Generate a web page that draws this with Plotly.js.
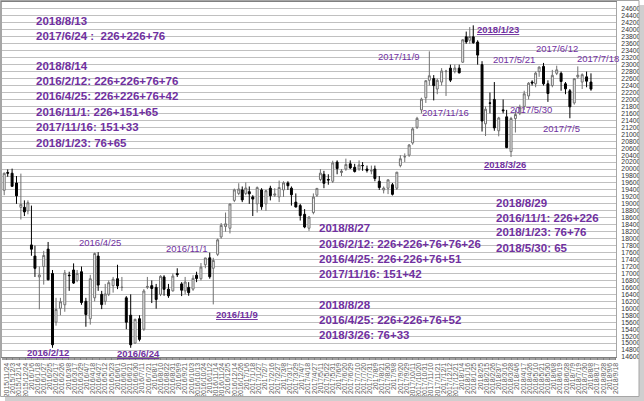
<!DOCTYPE html>
<html>
<head>
<meta charset="utf-8">
<script src="https://cdn.plot.ly/plotly-3.0.1.min.js"></script>
<style>
html,body{margin:0;padding:0;background:#ffffff;}
#chart{width:644px;height:401px;}
</style>
</head>
<body>
<div id="chart"></div>
<script>
// ---- Axis calendar: x tick labels (every 7th trading session) ----
const tickLabels = ['2015/11/24','2015/12/3','2015/12/14','2015/12/24','2016/1/6','2016/1/18','2016/1/27','2016/2/5','2016/2/17','2016/2/26','2016/3/8','2016/3/17','2016/3/29','2016/4/7','2016/4/18','2016/4/27','2016/5/12','2016/5/23','2016/6/1','2016/6/10','2016/6/21','2016/6/30','2016/7/11','2016/7/21','2016/8/1','2016/8/10','2016/8/22','2016/8/31','2016/9/9','2016/9/21','2016/10/3','2016/10/13','2016/10/24','2016/11/2','2016/11/14','2016/11/24','2016/12/5','2016/12/14','2016/12/26','2017/1/6','2017/1/18','2017/1/27','2017/2/7','2017/2/16','2017/2/27','2017/3/8','2017/3/17','2017/3/29','2017/4/7','2017/4/18','2017/4/27','2017/5/11','2017/5/22','2017/5/31','2017/6/9','2017/6/20','2017/6/29','2017/7/10','2017/7/20','2017/7/31','2017/8/9','2017/8/21','2017/8/30','2017/9/8','2017/9/20','2017/9/29','2017/10/11','2017/10/20','2017/10/31','2017/11/10','2017/11/21','2017/12/1','2017/12/12','2017/12/21','2018/1/4','2018/1/16','2018/1/25','2018/2/5','2018/2/15','2018/2/26','2018/3/7','2018/3/16','2018/3/28','2018/4/6','2018/4/17','2018/4/26','2018/5/10','2018/5/21','2018/5/30','2018/6/8','2018/6/19','2018/6/28','2018/7/9','2018/7/19','2018/7/30','2018/8/8','2018/8/17','2018/8/28','2018/9/6','2018/9/18'];

// Market holidays (Tokyo) inside the period
const holidays = ['2015/11/23','2015/12/23','2015/12/31','2016/1/1','2016/1/11','2016/2/11','2016/3/21','2016/4/29','2016/5/3','2016/5/4','2016/5/5','2016/7/18','2016/8/11','2016/9/19','2016/9/22','2016/10/10','2016/11/3','2016/11/23','2016/12/23','2017/1/2','2017/1/3','2017/1/9','2017/3/20','2017/5/3','2017/5/4','2017/5/5','2017/7/17','2017/8/11','2017/9/18','2017/10/9','2017/11/3','2017/11/23','2018/1/1','2018/1/2','2018/1/3','2018/1/8','2018/2/12','2018/3/21','2018/4/30','2018/5/3','2018/5/4','2018/7/16','2018/9/17'];
const calendarStart = '2015/11/16';
const calendarEnd = '2018/9/18';

// ---- Price data (weekly candles, Nikkei 225) ----
const weekDates = ['2015/11/18','2015/11/25','2015/12/2','2015/12/9','2015/12/16','2015/12/22','2015/12/29',
'2016/1/6','2016/1/13','2016/1/20','2016/1/27','2016/2/3','2016/2/10','2016/2/17','2016/2/24','2016/3/2','2016/3/9','2016/3/16','2016/3/23','2016/3/30','2016/4/6','2016/4/13','2016/4/20','2016/4/26','2016/5/6','2016/5/12','2016/5/18','2016/5/25','2016/6/1','2016/6/8','2016/6/15','2016/6/22','2016/6/29','2016/7/6','2016/7/13','2016/7/20','2016/7/27','2016/8/3','2016/8/10','2016/8/17','2016/8/24','2016/8/31','2016/9/7','2016/9/14','2016/9/21','2016/9/28','2016/10/5','2016/10/12','2016/10/19','2016/10/26','2016/11/2','2016/11/9','2016/11/16','2016/11/22','2016/11/30','2016/12/7','2016/12/14','2016/12/21','2016/12/28',
'2017/1/5','2017/1/12','2017/1/18','2017/1/25','2017/2/1','2017/2/8','2017/2/15','2017/2/22','2017/3/1','2017/3/8','2017/3/15','2017/3/22','2017/3/29','2017/4/5','2017/4/12','2017/4/19','2017/4/26','2017/5/2','2017/5/11','2017/5/17','2017/5/24','2017/5/31','2017/6/7','2017/6/14','2017/6/21','2017/6/28','2017/7/5','2017/7/12','2017/7/19','2017/7/26','2017/8/2','2017/8/8','2017/8/16','2017/8/23','2017/8/30','2017/9/6','2017/9/13','2017/9/20','2017/9/27','2017/10/4','2017/10/11','2017/10/18','2017/10/25','2017/11/1','2017/11/8','2017/11/15','2017/11/21','2017/11/29','2017/12/6','2017/12/13','2017/12/20','2017/12/27',
'2018/1/5','2018/1/12','2018/1/18','2018/1/24','2018/1/31','2018/2/7','2018/2/14','2018/2/21','2018/2/28','2018/3/7','2018/3/14','2018/3/20','2018/3/28','2018/4/4','2018/4/11','2018/4/18','2018/4/25','2018/5/2','2018/5/10','2018/5/16','2018/5/23','2018/5/30','2018/6/6','2018/6/13','2018/6/20','2018/6/27','2018/7/4','2018/7/11','2018/7/18','2018/7/25','2018/8/1','2018/8/8'];

const openV = [19390,19900,19880,19600,18900,18900,18800,
17820,17500,16900,17200,17700,17000,15600,16000,16100,16950,17100,16800,17050,16200,15700,16300,17500,16400,16200,16400,16650,16850,16600,16300,15800,15000,15700,15400,16600,16650,16600,16400,16900,16550,16500,17000,16700,16500,16600,16550,16950,16850,17250,17450,17150,17550,18050,18350,18300,19100,19300,19400,
19300,19350,19200,19000,19400,19000,19450,19250,19200,19400,19600,19450,19050,18950,18700,18300,18750,19250,19700,19850,19700,19650,20200,19900,20000,20150,20050,20000,20100,20000,19950,20000,19650,19400,19450,19550,19450,20100,20350,20400,20750,21200,21700,22050,22550,22600,22300,22500,22800,22900,22800,22900,
23070,23800,23700,23800,23650,23000,21300,21900,22000,21100,21700,21500,20500,21450,21600,21800,22100,22500,22450,22800,22950,22450,22400,22750,22750,22450,22250,21900,22650,22500,22650,22500];
const highV = [19900,19990,20012,19800,19869,19100,19100,
18950,17800,17200,17650,17905,17100,16300,16300,17100,17050,17290,17100,17200,16300,16960,17600,17613,16500,16700,16800,16900,17250,16900,16350,16400,15700,15800,16550,16900,16800,16700,16950,16950,16700,17000,17150,16750,16900,16750,16950,17050,17300,17450,17600,17450,18000,18450,18750,19000,19440,19592,19500,
19615,19500,19250,19500,19450,19400,19520,19450,19670,19650,19650,19500,19300,19000,18850,18650,19300,19450,20000,19950,19850,20240,20250,20000,20300,20250,20150,20250,20200,20100,20100,20100,19800,19500,19700,19600,19920,20400,20450,20720,21200,21500,22050,22550,23382,22700,22600,22900,22850,23000,23000,23000,
23730,23950,24080,24129,23700,23100,21800,22200,22500,21500,22000,21700,21500,21700,21850,22250,22500,22550,22800,22950,23050,22550,22850,22970,22800,22500,22300,22600,22950,22750,22800,22750];
const lowV = [19250,19780,19490,19000,18550,18650,18700,
17510,16900,15970,16680,16800,14865,15500,15800,15900,16500,16700,16750,16100,15470,15530,16200,16500,15975,16100,16350,16450,16550,16500,15400,14864,14980,15050,15350,16550,16150,15990,16350,16360,16300,16480,16900,16350,16400,16360,16500,16750,16800,17150,16850,16111,17500,18000,18200,18150,19050,19250,19050,
19250,19000,18650,18750,18830,18800,19100,19200,19050,19200,19400,18950,18900,18520,18300,18224,18700,19200,19650,19450,19550,19600,19850,19800,19950,20000,19900,19950,19950,19900,19850,19650,19400,19300,19280,19240,19400,20050,20200,20350,20700,21150,21600,21900,22400,21972,22150,22400,22100,22500,22750,22750,
23050,23600,23600,23600,23000,21078,20950,21600,21100,20940,21600,20600,20347,21050,21550,21700,22000,22400,22350,22650,22400,21930,22350,22700,22250,22150,21460,21850,22600,22300,22350,22250];
const closeV = [19879,19883,19504,19230,18986,18769,19033,
17697,17147,16958,17518,16819,14952,15967,16188,17014,16938,16724,17002,16164,15821,16848,17572,16666,16106,16412,16736,16834,16642,16601,15599,14952,15682,15106,16497,16627,16569,16254,16919,16545,16360,16925,16965,16519,16754,16449,16860,16856,17184,17446,16905,17374,17967,18381,18426,18996,19401,19427,19114,
19454,19287,19137,19467,18918,19378,19234,19283,19469,19604,19521,19262,18909,18664,18335,18620,19196,19445,19883,19590,19686,20177,20013,19943,20132,20033,19929,20118,20099,19959,19952,19729,19470,19452,19691,19274,19909,20296,20356,20690,21155,21457,22008,22539,22681,22397,22550,22819,22811,22553,22902,22764,
23714,23653,23808,23631,23274,21382,21720,21892,21182,21469,21676,20617,21454,21567,21778,22162,22467,22473,22758,22930,22450,22171,22694,22851,22516,22304,21788,22597,22697,22712,22525,22298];

// ---- Build the trading-session calendar (axis positions) ----
function parseD(s){ const p = s.split('/').map(Number); return Date.UTC(p[0], p[1]-1, p[2]); }
function keyD(t){ const d = new Date(t); return d.getUTCFullYear()+'/'+(d.getUTCMonth()+1)+'/'+d.getUTCDate(); }
const holidaySet = new Set(holidays);
const sessions = [];
for (let t = parseD(calendarStart); t <= parseD(calendarEnd); t += 86400000) {
  const wd = new Date(t).getUTCDay();
  const k = keyD(t);
  if (wd === 0 || wd === 6 || holidaySet.has(k)) continue;
  sessions.push(k);
}
const sessionIndex = {};
sessions.forEach((k, i) => { sessionIndex[k] = i; });
const xIdx = weekDates.map(d => { if (!(d in sessionIndex)) throw new Error('missing ' + d); return sessionIndex[d]; });
const tickIdx = tickLabels.map(d => { if (!(d in sessionIndex)) throw new Error('missing tick ' + d); return sessionIndex[d]; });

// ---- Geometry helpers for text placement ----
const W = 644, H = 401, ML = 2, MT = 2, MR = 28, MB = 44;
const PW = W - ML - MR, PH = H - MT - MB;
const fx = p => (p - ML) / PW;
const fy = p => (MT + PH - p) / PH;

const PURPLE = '#7030A0';
const FONT = 'Liberation Sans, Arial, sans-serif';
const annotations = [];
function addText(text, left, cy, size, opts) {
  opts = opts || {};
  annotations.push({
    text: text, xref: 'paper', yref: 'paper', x: fx(left), y: fy(cy),
    xanchor: 'left', yanchor: 'middle', showarrow: false, borderpad: 0, borderwidth: 0,
    font: { family: FONT, size: size, color: PURPLE, weight: opts.bold ? 'bold' : 'normal',
            lineposition: opts.under ? 'under' : 'none' }
  });
}
// Bold text blocks
const block1 = [['2018/8/13',21],['2017/6/24 :\u00a0 226+226+76',36],['2018/8/14',66],['2016/2/12: 226+226+76+76',81],['2016/4/25: 226+226+76+42',96.5],['2016/11/1: 226+151+65',111.5],['2017/11/16: 151+33',127],['2018/1/23: 76+65',142.5]];
block1.forEach(r => addText(r[0], 36, r[1], 11.5, {bold:true}));
const block2 = [['2018/8/27',228.3],['2016/2/12: 226+226+76+76+26',244],['2016/4/25: 226+226+76+51',259],['2017/11/16: 151+42',274.3],['2018/8/28',305],['2016/4/25: 226+226+76+52',320.3],['2018/3/26: 76+33',335.3]];
block2.forEach(r => addText(r[0], 318.5, r[1], 11.5, {bold:true}));
const block3 = [['2018/8/29',202.7],['2016/11/1: 226+226',217.7],['2018/1/23: 76+76',232.3],['2018/5/30: 65',248]];
block3.forEach(r => addText(r[0], 495.5, r[1], 11.5, {bold:true}));
// Plain date labels
[['2016/4/25',79,242.7],['2016/11/1',166,248.3],['2017/11/9',378,56.7],['2017/11/16',421.5,112.3],['2017/5/21',492.5,59.3],['2017/6/12',536,48.3],['2017/7/18',576.5,58.5],['2017/5/30',510,109],['2017/7/5',543,128.3]]
  .forEach(r => addText(r[0], r[1], r[2], 9.5, {}));
// Bold underlined labels
[['2016/2/12',26.5,352.3],['2016/6/24',117,353.3],['2016/11/9',216,314.3],['2018/1/23',476.5,29.3],['2018/3/26',484,164.7]]
  .forEach(r => addText(r[0], r[1], r[2], 9.5, {bold:true, under:true}));

// ---- Frame & shadow ----
const shapes = [
  {type:'rect', xref:'paper', yref:'paper', x0:fx(639), x1:fx(644), y0:fy(401), y1:fy(5), fillcolor:'#cfcfcf', line:{width:0}, layer:'above'},
  {type:'rect', xref:'paper', yref:'paper', x0:fx(5), x1:fx(644), y0:fy(401), y1:fy(396.5), fillcolor:'#cfcfcf', line:{width:0}, layer:'above'},
  {type:'rect', xref:'paper', yref:'paper', x0:fx(0.5), x1:fx(639), y0:fy(396.5), y1:fy(0.5), line:{color:'#a6a6a6', width:1}, layer:'above'}
];

const trace = {
  type: 'candlestick',
  x: xIdx, open: openV, high: highV, low: lowV, close: closeV,
  whiskerwidth: 0,
  increasing: { line: { color: '#6f6f6f', width: 1 }, fillcolor: '#ffffff' },
  decreasing: { line: { color: '#000000', width: 1 }, fillcolor: '#000000' },
  hoverinfo: 'skip', showlegend: false
};

const layout = {
  width: W, height: H,
  margin: { l: ML, r: MR, t: MT, b: MB, pad: 0 },
  paper_bgcolor: '#ffffff', plot_bgcolor: '#ffffff',
  font: { family: FONT, size: 7, color: '#404040' },
  showlegend: false, hovermode: false,
  boxgap: 0.45, boxgroupgap: 0,
  xaxis: {
    type: 'linear', range: [-0.5, sessions.length - 0.5],
    rangeslider: { visible: false },
    tickmode: 'array', tickvals: tickIdx, ticktext: tickLabels,
    tickangle: -90, tickfont: { size: 7, color: '#595959' },
    showgrid: false, zeroline: false,
    showline: true, linecolor: '#808080', linewidth: 1, mirror: true,
    ticks: 'outside', ticklen: 2, tickcolor: '#808080',
    minor: { dtick: 1, tick0: 0, ticks: 'outside', ticklen: 2, tickcolor: '#a0a0a0', tickwidth: 1, showgrid: false },
    fixedrange: true
  },
  yaxis: {
    side: 'right', range: [14600, 24800], tickmode: 'linear', tick0: 14600, dtick: 200,
    tickformat: 'd', tickfont: { size: 6.8, color: '#333333' },
    showgrid: true, gridcolor: '#c0c0c0', gridwidth: 1, zeroline: false,
    showline: true, linecolor: '#a6a6a6', linewidth: 1, mirror: true,
    ticks: '', ticklabelstandoff: 3, fixedrange: true
  },
  annotations: annotations,
  shapes: shapes
};

Plotly.newPlot('chart', [trace], layout, { displayModeBar: false, staticPlot: true });
</script>
</body>
</html>
